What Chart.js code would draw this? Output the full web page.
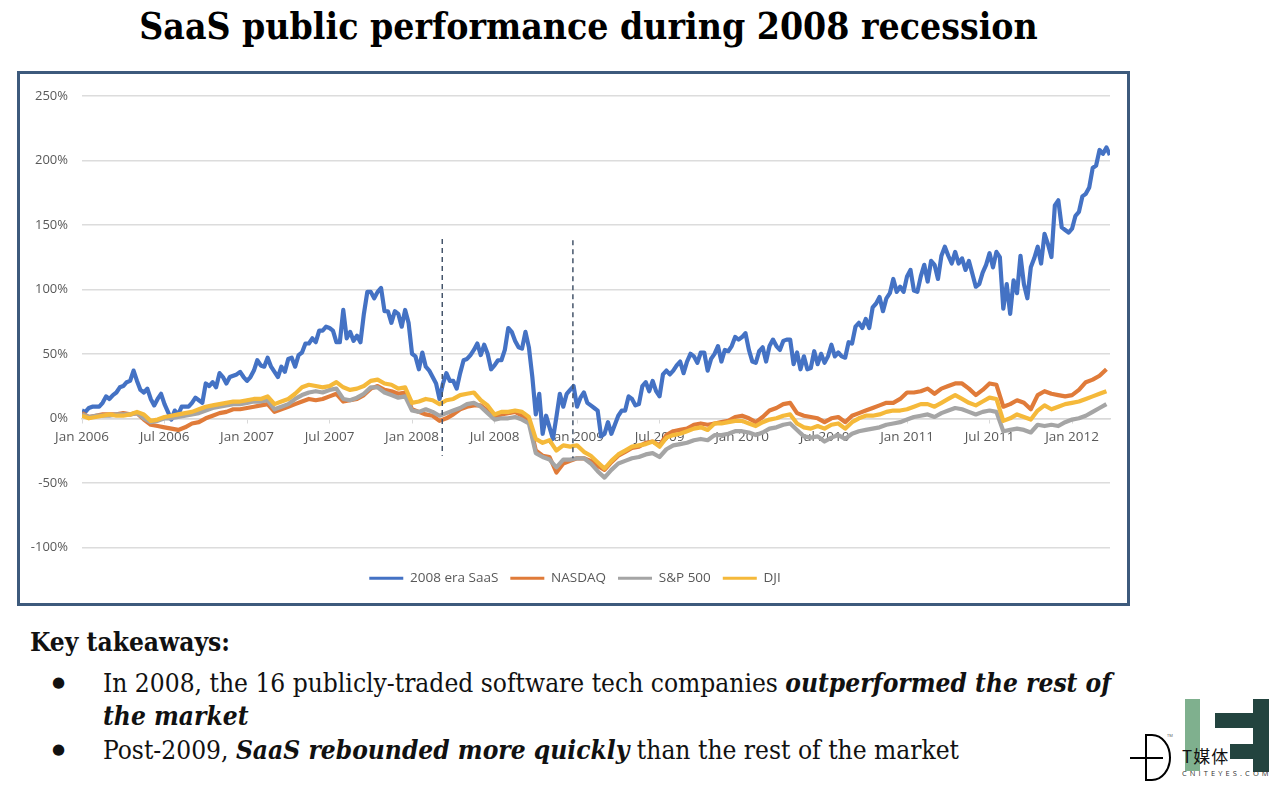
<!DOCTYPE html>
<html><head><meta charset="utf-8">
<script src="https://cdn.jsdelivr.net/npm/chart.js@4"></script>
<style>
html,body{margin:0;padding:0;background:#fff;width:1280px;height:792px;overflow:hidden}
#title{position:absolute;left:0;top:4px;width:1177px;text-align:center;font:bold 37px "DejaVu Serif Condensed","DejaVu Serif",serif;font-stretch:condensed;color:#000;white-space:nowrap}
#box{position:absolute;left:17px;top:71px;width:1107px;height:529px;border:3px solid #3d5a7c;background:#fff}
#box canvas{filter:blur(.45px)}
.t{position:absolute;font:26.100px "DejaVu Serif Condensed","DejaVu Serif",serif;font-stretch:condensed;color:#111;white-space:nowrap}
.t b{font-weight:bold}
.d{position:absolute;font:15px "DejaVu Sans",sans-serif;color:#111}
#logo{position:absolute;left:1120px;top:690px}
</style></head><body>
<div id="title">SaaS public performance during 2008 recession</div>
<div id="box"><canvas id="c" width="1107" height="529"></canvas></div>
<div class="t" style="left:30px;top:626px"><b>Key takeaways:</b></div>
<div class="d" style="left:52px;top:673px">●</div>
<div class="t" style="left:103px;top:667px">In 2008, the 16 publicly-traded software tech companies <b><i>outperformed the rest of</i></b></div>
<div class="t" style="left:103px;top:700px"><b><i>the market</i></b></div>
<div class="d" style="left:52px;top:740px">●</div>
<div class="t" style="left:103px;top:734px">Post-2009, <b><i>SaaS rebounded more quickly</i></b> than the rest of the market</div>
<svg id="logo" width="160" height="102" viewBox="1120 690 160 102">
<rect x="1185" y="699" width="15" height="72" fill="#7fb08e"/>
<rect x="1253" y="699" width="16" height="73" fill="#23443f"/>
<rect x="1215" y="713" width="38" height="15" fill="#23443f"/>
<rect x="1230" y="744" width="23" height="15" fill="#23443f"/>
<path d="M1146 735h6a18 22.500 0 0 1 0 45h-6z" fill="none" stroke="#000" stroke-width="2"/>
<path d="M1130 758h33" stroke="#000" stroke-width="2"/>
<text x="1167" y="737" font-family="Open Sans" font-size="4" fill="#555">TM</text>
<text x="1182" y="763" font-family="Noto Sans CJK SC" font-size="17" letter-spacing="1" fill="#111">T媒体</text>
<text x="1182" y="776" font-family="Open Sans" font-size="7.500" letter-spacing="3.100" fill="#333">CNITEYES.COM</text>
</svg>
<script>
const seriesNames = ["2008 era SaaS","NASDAQ","S&P 500","DJI"];
const yTickLabels = ["-100%","-50%","0%","50%","100%","150%","200%","250%"];
const xTickLabels = ["Jan 2006","Jul 2006","Jan 2007","Jul 2007","Jan 2008","Jul 2008","Jan 2009","Jul 2009","Jan 2010","Jul 2010","Jan 2011","Jul 2011","Jan 2012"];
// SaaS read at quarter-month steps, the indices at half-month steps
const saas = [6,5,8,9,9,9,12,17,15,18,
 20,24,25,28,29,37,29,22,20,23,
 15,10,15,19,11,5,-1,6,3,9,
 9,9,12,16,14,12,27,25,28,24,
 35,32,27,32,33,34,36,32,29,32,
 37,45,41,40,47,40,36,32,40,36,
 46,47,40,49,51,58,58,62,59,68,
 68,71,70,68,59,59,84,62,67,60,
 64,59,81,98,98,93,98,101,83,83,
 74,83,81,71,84,74,50,48,38,51,
 40,37,32,27,15,27,35,29,29,23,
 35,45,46,49,53,58,49,57,50,38,
 41,45,45,53,70,67,60,55,54,67,
 55,32,3,19,-12,2,-7,-16,1,19,
 9,19,22,25,9,16,20,12,10,8,
 6,-14,-12,-3,-12,-5,2,6,6,17,
 15,10,11,25,28,21,29,21,17,34,
 37,34,37,41,44,35,44,50,48,43,
 51,51,37,46,50,56,44,53,52,56,
 63,61,63,66,53,44,43,52,55,44,
 56,61,56,53,60,61,61,42,51,38,
 48,38,39,52,42,50,43,48,57,48,
 51,48,47,59,58,71,74,70,77,70,
 86,89,94,83,93,97,108,98,102,98,
 110,115,99,98,110,119,106,122,119,108,
 126,133,126,120,129,120,124,115,122,112,
 102,104,113,119,128,117,129,125,85,104,
 81,107,97,126,104,93,117,124,133,120,
 143,135,125,165,169,148,146,144,147,157,
 160,172,174,179,194,196,208,205,210,204];
const nasdaq = [4,1,2,3,3,3,4,3,4,-1,-5,-6,-7,-8,-9,-7,-4,-3,0,2,
 4,5,7,7,8,9,10,11,5,7,9,11,13,15,14,15,17,19,13,14,
 15,18,23,25,22,21,19,20,7,5,3,2,-2,0,3,7,9,10,10,6,
 1,3,4,5,2,-1,-25,-29,-30,-42,-35,-33,-31,-31,-33,-37,-40,-34,-29,-26,
 -23,-22,-19,-18,-21,-13,-10,-9,-8,-5,-4,-5,-4,-3,-2,1,2,0,-3,1,
 6,8,11,12,4,2,1,0,-3,0,1,-3,2,4,6,8,10,12,12,15,
 20,20,21,23,19,23,25,27,27,23,18,22,27,26,9,11,14,12,7,18,
 21,19,18,17,18,22,28,30,33,38];
const sp500 = [3,1,2,2,2,3,3,3,4,0,-3,-2,0,0,1,2,3,4,6,8,
 9,10,11,11,12,13,13,14,7,9,11,15,18,20,21,20,22,23,15,14,
 16,19,24,24,20,18,16,17,6,5,7,5,2,4,6,8,11,12,9,4,
 -1,0,0,1,-1,-4,-27,-30,-32,-38,-32,-32,-31,-31,-35,-41,-46,-40,-35,-33,
 -31,-30,-28,-27,-30,-24,-21,-20,-19,-17,-16,-17,-13,-13,-12,-10,-10,-11,-13,-11,
 -8,-7,-5,-4,-9,-14,-15,-14,-18,-15,-13,-16,-12,-10,-9,-8,-7,-5,-4,-3,
 -1,1,2,3,1,4,6,8,7,5,3,5,6,5,-10,-9,-8,-9,-11,-5,
 -6,-5,-6,-3,-1,0,2,5,8,11];
const dji = [2,0,1,2,3,2,2,3,5,3,-2,-1,1,2,3,4,5,7,9,10,
 11,12,13,13,14,15,15,17,11,13,15,19,24,26,25,24,25,28,24,22,
 23,25,29,30,27,26,23,24,12,13,15,14,11,14,15,18,19,20,14,10,
 3,5,5,6,5,1,-16,-19,-17,-25,-21,-22,-21,-26,-29,-34,-39,-33,-28,-25,
 -22,-21,-20,-18,-22,-15,-13,-12,-10,-8,-7,-9,-4,-4,-3,-2,-2,-4,-6,-3,
 -1,0,2,3,-4,-7,-8,-6,-8,-5,-4,-8,-3,0,2,2,3,5,6,6,
 7,9,11,11,9,12,15,18,15,12,10,13,16,15,-2,0,3,1,-1,6,
 10,7,9,11,12,13,15,17,19,21];
const recessionStartMonth = 26.2, recessionEndMonth = 35.7;
const dashA = [139,-29], dashB = [138,-31];
const colors = ["#4472c4","#e07b39","#a5a5a5","#f5b93a"];
const pts = (a,step) => a.map((v,i)=>({x:i*step,y:v}));
const line = (i,a,step)=>({label:seriesNames[i],data:pts(a,step),borderColor:colors[i],backgroundColor:colors[i],borderWidth:4.2,pointRadius:0,tension:0,order:4-i,borderJoinStyle:'round'});
const dash = (m,a)=>({label:'',data:[{x:m,y:a[0]},{x:m,y:a[1]}],borderColor:'#44546a',borderWidth:1.5,borderDash:[5,4],pointRadius:0,order:0});
const baseLabels = Chart.defaults.plugins.legend.labels.generateLabels;
const legendShift = {id:'legendShift',afterLayout(c){c.legend.left+=10;c.legend.right+=10;}};
new Chart(document.getElementById('c'),{type:'line',plugins:[legendShift],data:{datasets:[line(0,saas,.25),line(1,nasdaq,.5),line(2,sp500,.5),line(3,dji,.5),dash(recessionStartMonth,dashA),dash(recessionEndMonth,dashB)]},
options:{responsive:false,animation:false,devicePixelRatio:1,
 layout:{padding:{left:0,right:17,top:19,bottom:8}},
 plugins:{tooltip:{enabled:false},title:{display:false},
  legend:{display:true,position:'bottom',title:{display:true,text:' ',font:{size:1},padding:{top:11,bottom:0}},
   labels:{generateLabels:c=>baseLabels(c).map(l=>({...l,lineWidth:0})),filter:i=>i.text!=='',sort:(a,b)=>a.datasetIndex-b.datasetIndex,boxWidth:34,boxHeight:3,padding:12,color:'#595959',font:{family:'"Open Sans"',size:13.5}}}},
 scales:{
  x:{type:'linear',min:0,max:74.76,position:{y:0},
   afterBuildTicks:s=>{s.ticks=xTickLabels.map((_,i)=>({value:i*6}));},
   ticks:{autoSkip:false,maxRotation:0,padding:7,color:'#595959',font:{family:'"Open Sans"',size:13.5},callback:(v)=>xTickLabels[Math.round(v/6)]},
   grid:{drawOnChartArea:false,tickLength:4,color:'#d9d9d9'},border:{color:'#d9d9d9',width:1.5}},
  y:{min:-100,max:250,afterFit:s=>{s.width=62;},
   afterBuildTicks:s=>{s.ticks=yTickLabels.map((_,i)=>({value:-100+i*50}));},
   ticks:{autoSkip:false,padding:14,color:'#595959',font:{family:'"Open Sans"',size:13},callback:(v)=>yTickLabels[Math.round((v+100)/50)]},
   grid:{color:'#dcdcdc',lineWidth:1.5,drawTicks:false},border:{display:false}}
 }}});
</script>
</body></html>
